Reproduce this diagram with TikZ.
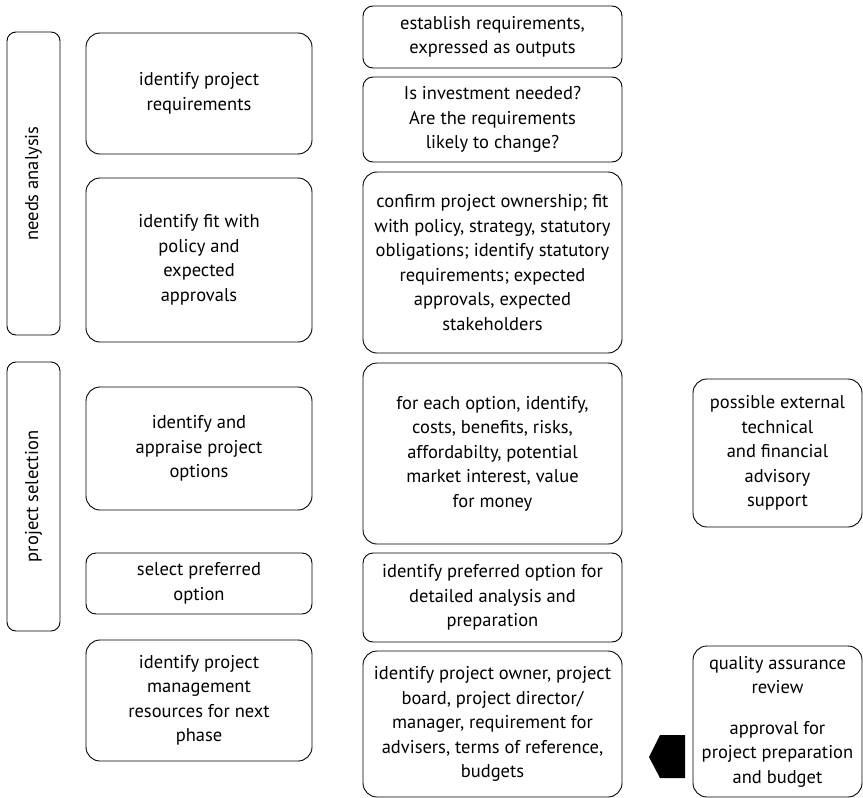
\documentclass[tikz,border=0pt]{standalone}
\usepackage{fontspec}
\setmainfont{PT Sans}
\begin{document}
\begin{tikzpicture}[x=1pt,y=-1pt,
  box/.style={draw, line width=0.9pt, rounded corners=14pt, align=center, inner sep=2pt,
    font=\fontsize{18.5}{24.5}\selectfont},
  sbox/.style={box, rounded corners=10pt},
  vbox/.style={draw, line width=0.9pt, rounded corners=9pt},
  vlabel/.style={rotate=90, font=\fontsize{18.5}{24.5}\selectfont}]
\useasboundingbox (0,0) rectangle (863,798);
% stage boxes
\node[vbox, minimum width=53pt, minimum height=303pt] (v1) at (33.5,183.5) {};
\node[vlabel] (v1t) at (v1.center) {needs analysis};
\node[vbox, minimum width=53pt, minimum height=269pt] (v2) at (33.5,496.5) {};
\node[vlabel] (v2t) at (v2.center) {project selection};
% column 2
\node[box, minimum width=226pt, minimum height=121pt] (c2a) at (199,93.5) {identify project\\requirements};
\node[box, minimum width=226pt, minimum height=164pt] (c2b) at (199,260) {identify fit with\\policy and\\expected\\approvals};
\node[box, minimum width=226pt, minimum height=123pt] (c2c) at (199,448.5) {identify and\\appraise project\\options};
\node[sbox, minimum width=226pt, minimum height=61pt] (c2d) at (199,583.5) {select preferred\\option};
\node[box, minimum width=226pt, minimum height=121pt] (c2e) at (199,700.5) {identify project\\management\\resources for next\\phase};
% column 3
\node[sbox, minimum width=259pt, minimum height=62pt] (c3a) at (492.5,37) {establish requirements,\\expressed as outputs};
\node[sbox, minimum width=259pt, minimum height=85pt] (c3b) at (492.5,119.5) {Is investment needed?\\Are the requirements\\likely to change?};
\node[box, minimum width=259pt, minimum height=181pt] (c3c) at (492.5,262.5) {confirm project ownership; fit\\with policy, strategy, statutory\\obligations; identify statutory\\requirements; expected\\approvals, expected\\stakeholders};
\node[box, minimum width=259pt, minimum height=181pt] (c3d) at (492.5,453.5) {for each option, identify,\\costs, benefits, risks,\\affordabilty, potential\\market interest, value\\for money};
\node[sbox, minimum width=259pt, minimum height=89pt] (c3e) at (492.5,597.5) {identify preferred option for\\detailed analysis and\\preparation};
\node[box, minimum width=259pt, minimum height=146pt] (c3f) at (492.5,724) {identify project owner, project\\board, project director/\\manager, requirement for\\advisers, terms of reference,\\budgets};
% column 4
\node[box, minimum width=169pt, minimum height=148pt] (c4a) at (777.5,453) {possible external\\technical\\and financial\\advisory\\support};
\node[box, minimum width=169pt, minimum height=151pt] (c4b) at (777.5,721.5) {quality assurance\\review\\[16pt]approval for\\project preparation\\and budget};
% arrow shape
\fill (649,757) -- (660,735) -- (685,735) -- (685,778) -- (660,778) -- cycle;
\end{tikzpicture}
\end{document}
